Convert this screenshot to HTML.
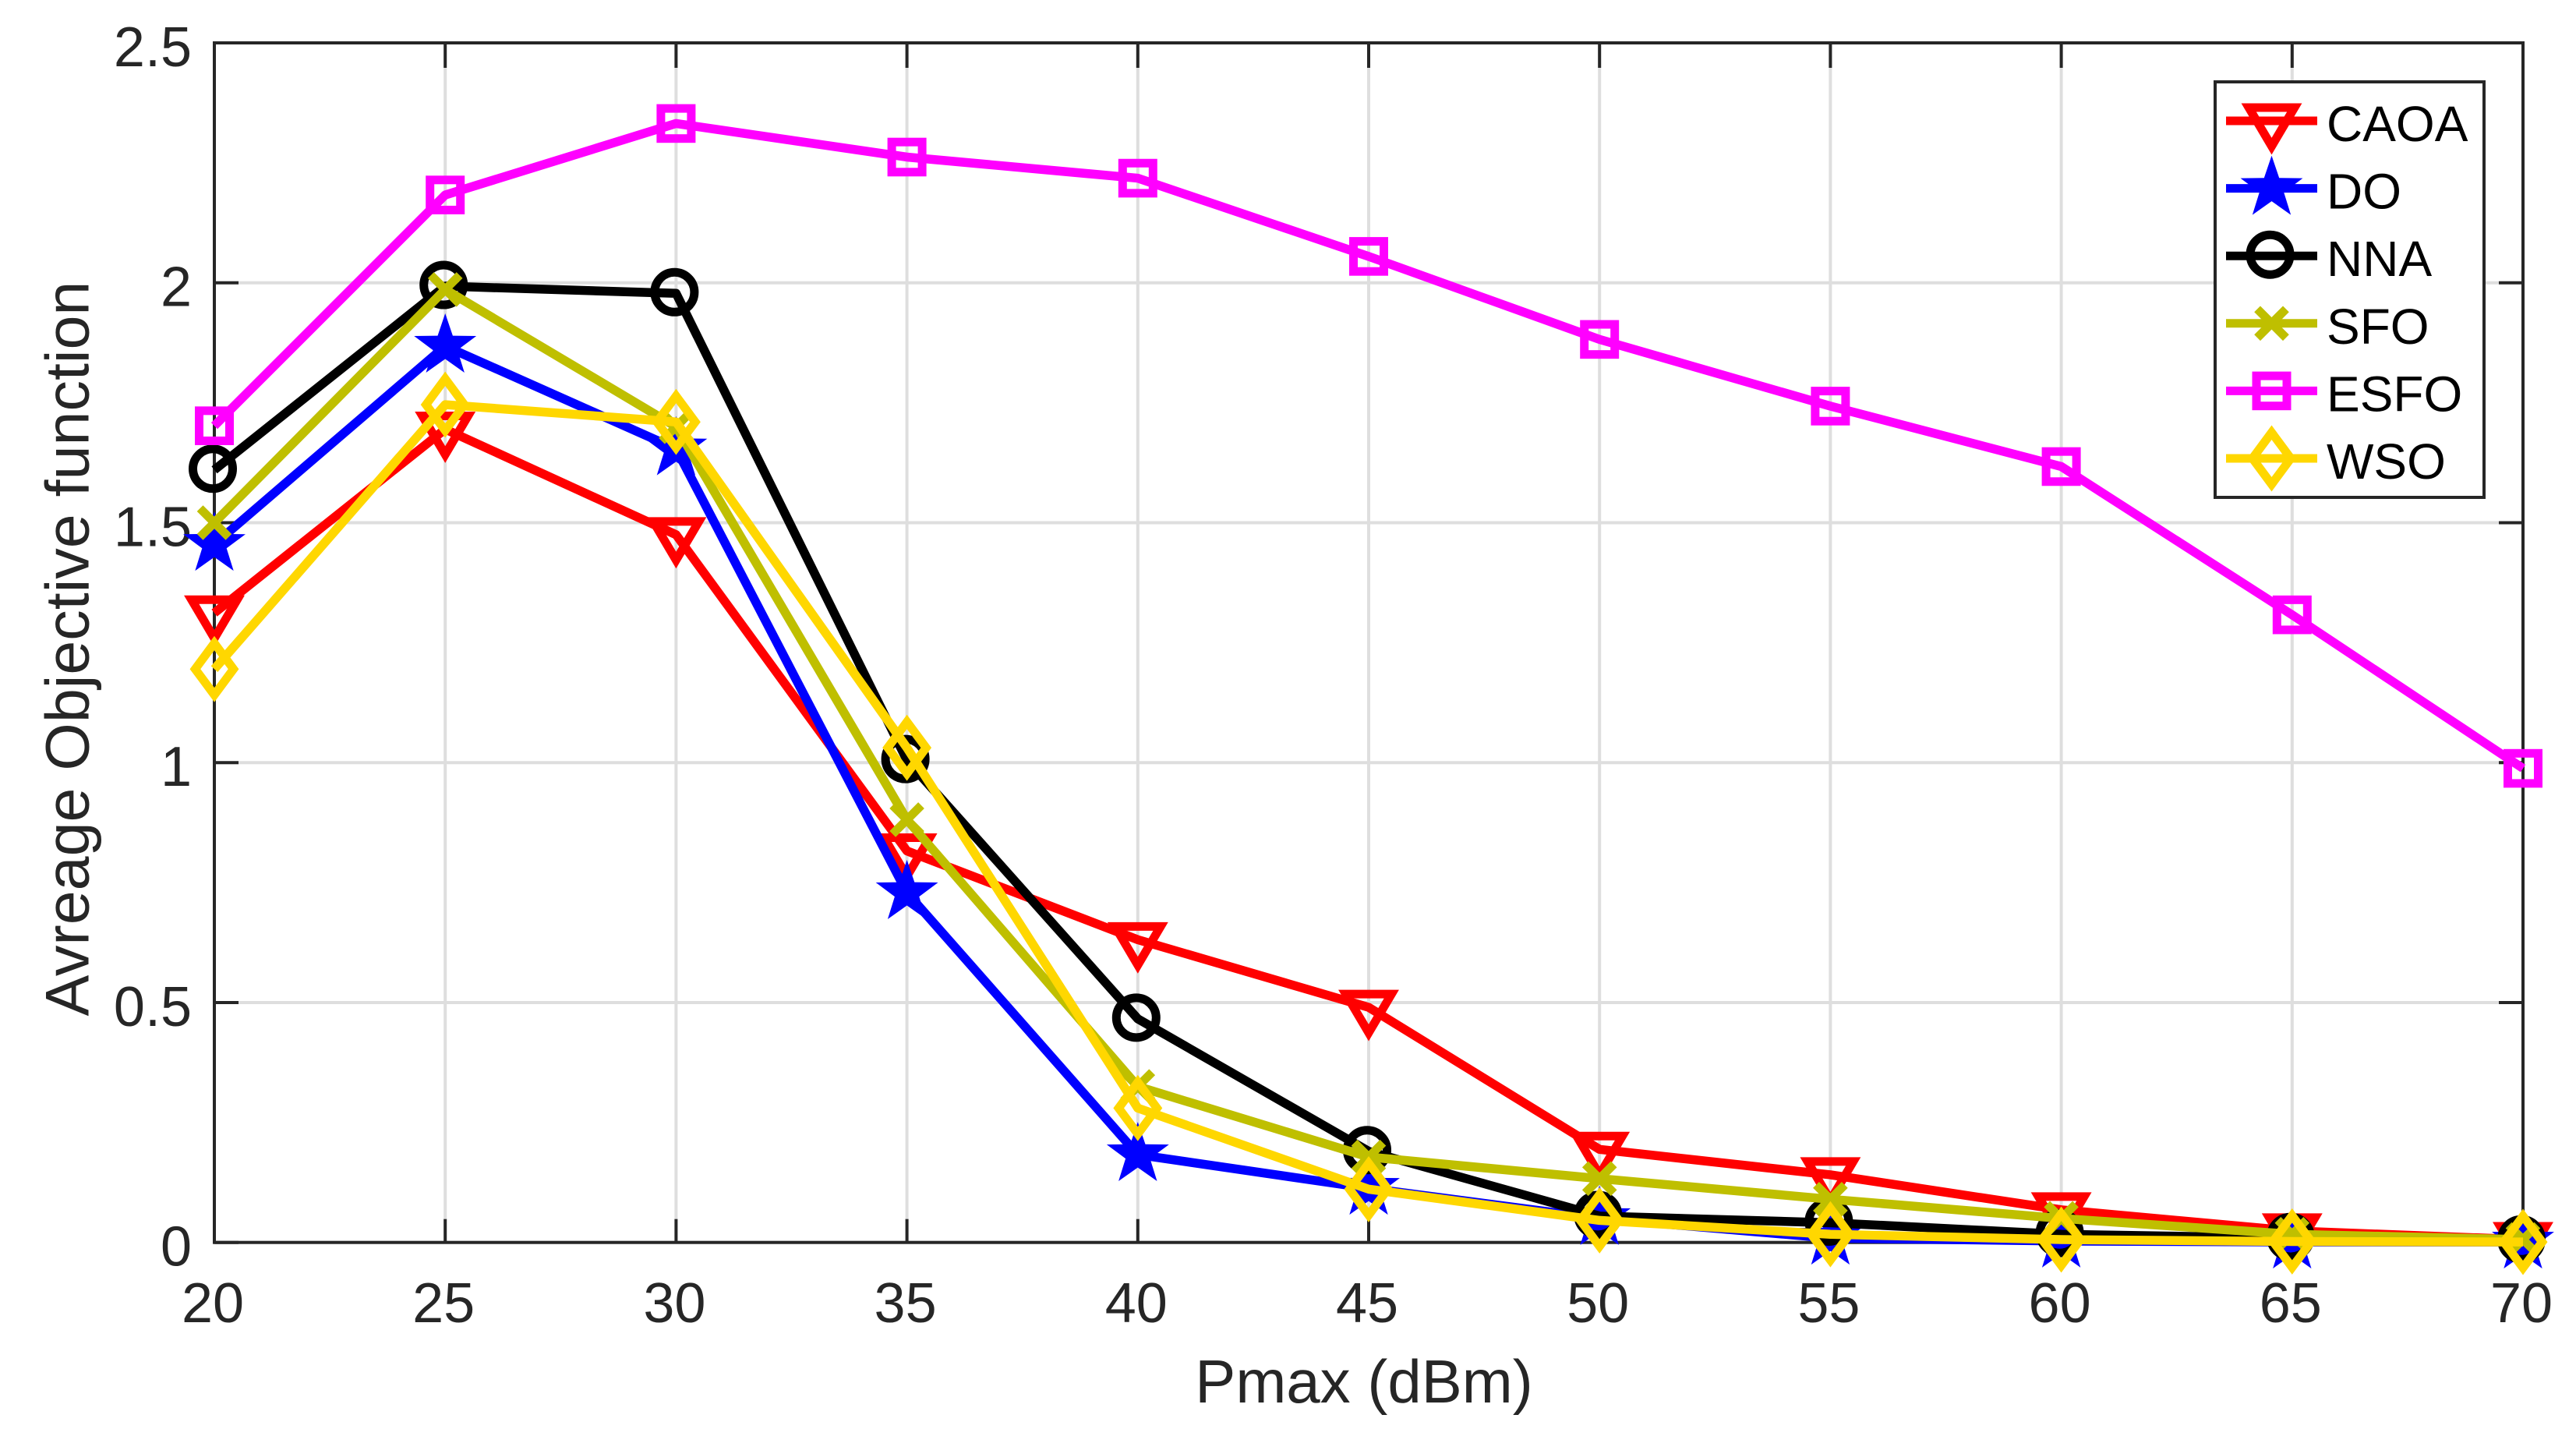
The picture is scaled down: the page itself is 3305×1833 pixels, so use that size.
<!DOCTYPE html>
<html lang="en">
<head>
<meta charset="utf-8">
<title>Average Objective function vs Pmax</title>
<style>
html,body{margin:0;padding:0;background:#fff;width:3305px;height:1833px;overflow:hidden}
svg{display:block}
text{font-family:"Liberation Sans",Arial,sans-serif}
</style>
</head>
<body>
<svg id="chart" xmlns="http://www.w3.org/2000/svg" width="3305" height="1833" viewBox="0 0 3305 1833"></svg>
<script>
const categories = [20, 25, 30, 35, 40, 45, 50, 55, 60, 65, 70];
const xTickLabels = ['20', '25', '30', '35', '40', '45', '50', '55', '60', '65', '70'];
const yTickValues = [0, 0.5, 1, 1.5, 2, 2.5];
const yTickLabels = ['0', '0.5', '1', '1.5', '2', '2.5'];
const seriesNames = ['CAOA', 'DO', 'NNA', 'SFO', 'ESFO', 'WSO'];
const caoaValues = [1.312, 1.695, 1.475, 0.816, 0.631, 0.49, 0.194, 0.141, 0.068, 0.024, 0.006];
const doValues = [1.455, 1.868, 1.654, 0.729, 0.183, 0.113, 0.05, 0.009, 0.003, 0.001, 0.001];
const nnaValues = [1.61, 1.993, 1.978, 1.005, 0.466, 0.19, 0.055, 0.041, 0.017, 0.009, 0.004];
const sfoValues = [1.5, 1.986, 1.7, 0.881, 0.325, 0.178, 0.133, 0.09, 0.05, 0.017, 0.006];
const esfoValues = [1.702, 2.183, 2.332, 2.262, 2.218, 2.055, 1.882, 1.743, 1.617, 1.308, 0.988];
const wsoValues = [1.195, 1.746, 1.71, 1.031, 0.28, 0.111, 0.046, 0.017, 0.006, 0.002, 0.001];

const NS = 'http://www.w3.org/2000/svg';
const svg = document.getElementById('chart');
const plot = {left: 275, right: 3237, top: 55, bottom: 1593.7};
const xMin = 20, xMax = 70, yMin = 0, yMax = 2.5;
const axisColor = '#262626', gridColor = '#dedede', seriesWidth = 11.5, markerWidth = 11;

function xScale(v) { return plot.left + (v - xMin) / (xMax - xMin) * (plot.right - plot.left); }
function yScale(v) { return plot.bottom - (v - yMin) / (yMax - yMin) * (plot.bottom - plot.top); }
function mk(tag, attrs, parent, text) {
  const el = document.createElementNS(NS, tag);
  for (const k in attrs) el.setAttribute(k, attrs[k]);
  if (text !== undefined) el.textContent = text;
  (parent || svg).appendChild(el);
  return el;
}
function group(name) {
  const g = mk('g', {});
  
  
  return g;
}
function poly(points) { return points.map(p => p[0] + ',' + p[1]).join(' '); }

function drawMarker(kind, cx, cy, color, parent) {
  let m;
  const common = {fill: 'none', stroke: color, 'stroke-width': markerWidth, 'stroke-linejoin': 'miter', 'stroke-miterlimit': 20};
  if (kind === 'triangle') {
    m = mk('polygon', Object.assign({points: poly([[cx - 29.3, cy - 17], [cx + 29.3, cy - 17], [cx, cy + 32.6]])}, common), parent);
  } else if (kind === 'star') {
    const pts = [];
    for (let i = 0; i < 10; i++) {
      const r = i % 2 === 0 ? 42 : 16.5;
      const a = -Math.PI / 2 + i * Math.PI / 5;
      pts.push([cx + r * Math.cos(a), cy + r * Math.sin(a)]);
    }
    m = mk('polygon', {points: poly(pts), fill: color, stroke: 'none'}, parent);
  } else if (kind === 'circle') {
    m = mk('circle', Object.assign({cx: cx - 2, cy: cy - 1.5, r: 25.5}, common), parent);
  } else if (kind === 'cross') {
    const a = 18.4;
    m = mk('path', {d: 'M' + (cx - a) + ' ' + (cy - a) + 'L' + (cx + a) + ' ' + (cy + a) + 'M' + (cx + a) + ' ' + (cy - a) + 'L' + (cx - a) + ' ' + (cy + a), fill: 'none', stroke: color, 'stroke-width': markerWidth}, parent);
  } else if (kind === 'square') {
    m = mk('rect', Object.assign({x: cx - 19.5, y: cy - 19.3, width: 39, height: 38.6}, common), parent);
  } else {
    m = mk('polygon', Object.assign({points: poly([[cx, cy - 33.2], [cx + 24.6, cy], [cx, cy + 33.2], [cx - 24.6, cy]])}, common), parent);
  }
  
  
  return m;
}

/* grid */
const gridG = group('grid-lines');
categories.forEach(function (c) {
  const gl = mk('line', {x1: xScale(c), x2: xScale(c), y1: plot.top, y2: plot.bottom, stroke: gridColor, 'stroke-width': 4}, gridG);
  
  
});
yTickValues.forEach(function (v) {
  const gl = mk('line', {x1: plot.left, x2: plot.right, y1: yScale(v), y2: yScale(v), stroke: gridColor, 'stroke-width': 4}, gridG);
  
  
});

/* ticks and labels */
const axisG = group('axes');
categories.forEach(function (c, i) {
  const x = xScale(c);
  const t1 = mk('line', {x1: x, x2: x, y1: plot.bottom, y2: plot.bottom - 30, stroke: axisColor, 'stroke-width': 4}, axisG);
  
  
  const t2 = mk('line', {x1: x, x2: x, y1: plot.top, y2: plot.top + 32, stroke: axisColor, 'stroke-width': 4}, axisG);
  
  
  const l = mk('text', {x: x - 2, y: 1696, 'text-anchor': 'middle', 'font-size': 72, fill: axisColor}, axisG, xTickLabels[i]);
  
  
});
yTickValues.forEach(function (v, i) {
  const y = yScale(v);
  const t1 = mk('line', {x1: plot.left, x2: plot.left + 31, y1: y, y2: y, stroke: axisColor, 'stroke-width': 4}, axisG);
  
  
  const t2 = mk('line', {x1: plot.right, x2: plot.right - 31, y1: y, y2: y, stroke: axisColor, 'stroke-width': 4}, axisG);
  
  
  const l = mk('text', {x: 246, y: y + 30, 'text-anchor': 'end', 'font-size': 72, fill: axisColor}, axisG, yTickLabels[i]);
  
  
});
const frame = mk('rect', {x: plot.left, y: plot.top, width: plot.right - plot.left, height: plot.bottom - plot.top, fill: 'none', stroke: axisColor, 'stroke-width': 4}, axisG);



const xTitle = mk('text', {x: 1750, y: 1799, 'text-anchor': 'middle', 'font-size': 78, fill: axisColor}, axisG, 'Pmax (dBm)');


const yTitle = mk('text', {x: 0, y: 0, transform: 'translate(113.5 832) rotate(-90)', 'text-anchor': 'middle', 'font-size': 79, fill: axisColor}, axisG, 'Avreage Objective function');



/* series */
const seriesValues = [caoaValues, doValues, nnaValues, sfoValues, esfoValues, wsoValues];
const seriesColors = ['#ff0000', '#0000ff', '#000000', '#bfbf00', '#ff00ff', '#ffd700'];
const seriesMarkers = ['triangle', 'star', 'circle', 'cross', 'square', 'diamond'];
seriesValues.forEach(function (vals, s) {
  const g = group('series-' + seriesNames[s].toLowerCase());
  const pts = vals.map(function (v, i) { return [xScale(categories[i]), yScale(v)]; });
  const line = mk('polyline', {points: poly(pts), fill: 'none', stroke: seriesColors[s], 'stroke-width': seriesWidth, 'stroke-linejoin': 'round', 'stroke-linecap': 'butt'}, g);
  
  
  pts.forEach(function (p) { drawMarker(seriesMarkers[s], p[0], p[1], seriesColors[s], g); });
});

/* legend */
const legend = group('legend');
const legendBox = mk('rect', {x: 2842, y: 105, width: 345, height: 533, fill: '#fff', stroke: axisColor, 'stroke-width': 4}, legend);


seriesNames.forEach(function (name, s) {
  const rowY = 155 + s * 86.6;
  const g = mk('g', {}, legend);
  
  
  const ln = mk('line', {x1: 2856, x2: 2973, y1: rowY, y2: rowY, stroke: seriesColors[s], 'stroke-width': 11}, g);
  
  
  drawMarker(seriesMarkers[s], 2914.5, rowY, seriesColors[s], g);
  const t = mk('text', {x: 2985, y: rowY + 26, 'font-size': 64, fill: '#000'}, g, name);
  
  
});
</script>
</body>
</html>
